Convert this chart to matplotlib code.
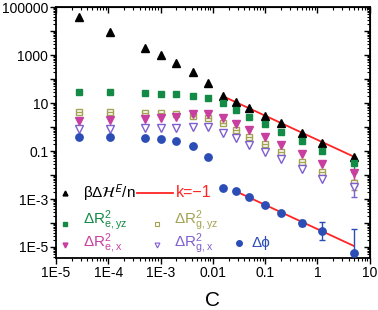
import math
import matplotlib
matplotlib.use("Agg")
import matplotlib.pyplot as plt
from matplotlib.ticker import LogLocator, FuncFormatter, NullFormatter

plt.rcParams['font.family'] = ['Liberation Sans', 'DejaVu Sans']
plt.rcParams['mathtext.fontset'] = 'custom'
plt.rcParams['mathtext.rm'] = 'Liberation Sans'
plt.rcParams['mathtext.it'] = 'Liberation Sans:italic'

# concentration values
C = [2.7e-5, 1.1e-4, 5e-4, 1e-3, 2e-3, 4.2e-3, 8e-3, 0.0155, 0.0275, 0.05, 0.1, 0.2, 0.5, 1.25, 5.0]

# series
dH = [38000, 9000, 1950, 1000, 460, 196, 68, 20, 11, 6.2, 2.9, 1.47, 0.56, 0.21, 0.056]
Re_yz = [29, 29, 27, 25, 23, 20, 16.6, 10, 5.2, 2.6, 1.33, 0.62, 0.26, 0.1, 0.031]
Rg_yz = [4.2, 4.2, 4.0, 3.8, 3.5, 2.9, 2.5, 1.47, 0.75, 0.38, 0.19, 0.09, 0.035, 0.013, 0.0047]
Re_x = [1.8, 1.9, 2.15, 2.4, 2.6, 3.5, 3.5, 2.4, 1.4, 0.75, 0.38, 0.18, 0.075, 0.029, 0.012]
Rg_x = [0.83, 0.83, 0.91, 0.91, 0.93, 1.0, 0.97, 0.56, 0.35, 0.18, 0.09, 0.047, 0.018, 0.0068, 0.0032]
dphi = [0.38, 0.38, 0.35, 0.32, 0.26, 0.16, 0.056, 0.0029, 0.0021, 0.0012, 5.6e-4, 2.6e-4, 1.0e-4, 4.6e-5, 5.6e-6]

# error bars at the last point of the R^2 series: (lower, upper) bounds
Re_yz_err = [0.013, 0.051]
Rg_yz_err = [0.0024, 0.013]
Re_x_err = [0.0062, 0.016]
Rg_x_err = [0.0012, 0.0051]
# error bars of dphi
dphi_err_C = [0.5, 1.25, 5.0]
dphi_err_lo = [7.5e-5, 1.95e-5, 1e-6]
dphi_err_hi = [1.33e-4, 1.1e-4, 5.6e-5]

# k = -1 guide lines
line1_C = [0.0155, 5.0]
line1_y = [19.5, 0.058]
line2_C = [0.0275, 5.0]
line2_y = [2.1e-3, 1.1e-5]

green = '#138a45'
olive = '#a3a352'
pink = '#c83fa0'
purple = '#7f5fcf'
blue = '#2b4db5'
red = '#ff2424'

fig = plt.figure(figsize=(3.78, 3.10), dpi=100)
ax = fig.add_axes([0.148, 0.168, 0.83, 0.809])
ax.set_xscale('log')
ax.set_yscale('log')

ax.plot(line1_C, line1_y, color=red, lw=1.3, zorder=2)
ax.plot(line2_C, line2_y, color=red, lw=1.3, zorder=2)

def err(series, bounds, col):
    v = series[-1]
    ax.errorbar([C[-1]], [v], yerr=[[v - bounds[0]], [bounds[1] - v]],
                fmt='none', ecolor=col, elinewidth=1, capsize=2.5, zorder=2)

err(Re_yz, Re_yz_err, green)
err(Rg_yz, Rg_yz_err, olive)
err(Re_x, Re_x_err, pink)
err(Rg_x, Rg_x_err, purple)
dv = [dphi[C.index(c)] for c in dphi_err_C]
ax.errorbar(dphi_err_C, dv,
            yerr=[[a - b for a, b in zip(dv, dphi_err_lo)], [b - a for a, b in zip(dv, dphi_err_hi)]],
            fmt='none', ecolor=blue, elinewidth=1, capsize=2.5, zorder=2)

ms = 5.3
ax.plot(C, dH, '^', color='black', ms=ms, ls='none', zorder=3)
ax.plot(C, Re_yz, 's', color=green, ms=ms - 0.5, ls='none', zorder=3)
ax.plot(C, Rg_yz, 's', mfc='white', mec=olive, mew=1, ms=ms - 0.5, ls='none', zorder=3)
ax.plot(C, Rg_yz, '_', color=olive, mew=1, ms=ms - 0.5, ls='none', zorder=3)
ax.plot(C, Re_x, 'v', color=pink, ms=ms, ls='none', zorder=3)
ax.plot(C, Rg_x, 'v', mfc='white', mec=purple, mew=1, ms=ms, ls='none', zorder=3)
ax.plot(C, dphi, 'o', color=blue, ms=ms, ls='none', zorder=3)

ax.set_xlim(1e-5, 10)
ax.set_ylim(3.5e-6, 1e5)

xlab = {-5: '1E-5', -4: '1E-4', -3: '1E-3', -2: '0.01', -1: '0.1', 0: '1', 1: '10'}
ylab = {5: '100000', 3: '1000', 1: '10', -1: '0.1', -3: '1E-3', -5: '1E-5'}

def fmt(d):
    def f(v, pos):
        e = int(round(math.log10(v)))
        return d.get(e, '')
    return f

ax.xaxis.set_major_locator(LogLocator(base=10, numticks=20))
ax.xaxis.set_minor_locator(LogLocator(base=10, subs=range(2, 10), numticks=50))
ax.yaxis.set_major_locator(LogLocator(base=10, numticks=20))
ax.yaxis.set_minor_locator(LogLocator(base=10, subs=range(2, 10), numticks=50))
ax.xaxis.set_major_formatter(FuncFormatter(fmt(xlab)))
ax.yaxis.set_major_formatter(FuncFormatter(fmt(ylab)))
ax.xaxis.set_minor_formatter(NullFormatter())
ax.yaxis.set_minor_formatter(NullFormatter())
ax.tick_params(which='major', direction='out', length=4, width=1, labelsize=10, pad=1.5)
ax.tick_params(which='minor', direction='out', length=2, width=0.8)

for sp in ax.spines.values():
    sp.set_linewidth(1.3)

top = ax.secondary_xaxis('top')
top.xaxis.set_major_locator(LogLocator(base=10, numticks=20))
top.xaxis.set_minor_locator(LogLocator(base=10, subs=range(2, 10), numticks=50))
top.xaxis.set_major_formatter(NullFormatter())
top.xaxis.set_minor_formatter(NullFormatter())
top.tick_params(which='major', direction='in', length=4, width=1)
top.tick_params(which='minor', direction='in', length=2, width=0.8)
right = ax.secondary_yaxis('right')
right.yaxis.set_major_locator(LogLocator(base=10, numticks=20))
right.yaxis.set_minor_locator(LogLocator(base=10, subs=range(2, 10), numticks=50))
right.yaxis.set_major_formatter(NullFormatter())
right.yaxis.set_minor_formatter(NullFormatter())
right.tick_params(which='major', direction='in', length=4, width=1)
right.tick_params(which='minor', direction='in', length=2, width=0.8)

ax.set_xlabel('C', fontsize=15, labelpad=8)

# legend drawn by hand
T = ax.transAxes
lfs = 11
lms = 3.5
ax.plot([0.029], [0.259], '^', color='black', ms=lms, transform=T)
ax.text(0.086, 0.262, 'βΔ$\\mathcal{H}^{\\mathsf{E}}$/n', transform=T, fontsize=lfs,
        va='center', color='black', math_fontfamily='stix')
ax.plot([0.258, 0.373], [0.259, 0.259], color=red, lw=1.3, transform=T)
ax.text(0.382, 0.259, 'k=−1', transform=T, fontsize=lfs + 0.5, va='center', color=red)

ax.plot([0.029], [0.135], 's', color=green, ms=lms, transform=T)
ax.text(0.086, 0.15, 'ΔR$^2_{\\rm e,yz}$', transform=T, fontsize=lfs, va='center', color=green)
ax.plot([0.322], [0.135], 's', mfc='white', mec=olive, mew=0.8, ms=lms, transform=T)
ax.text(0.376, 0.15, 'ΔR$^2_{\\rm g,yz}$', transform=T, fontsize=lfs, va='center', color=olive)

ax.plot([0.029], [0.052], 'v', color=pink, ms=lms, transform=T)
ax.text(0.086, 0.055, 'ΔR$^2_{\\rm e,x}$', transform=T, fontsize=lfs, va='center', color=pink)
ax.plot([0.322], [0.052], 'v', mfc='white', mec=purple, mew=0.8, ms=lms, transform=T)
ax.text(0.376, 0.055, 'ΔR$^2_{\\rm g,x}$', transform=T, fontsize=lfs, va='center', color=purple)
ax.plot([0.583], [0.06], 'o', color=blue, ms=lms + 0.5, transform=T)
ax.text(0.624, 0.06, 'Δϕ', transform=T, fontsize=lfs, va='center', color=blue)

fig.savefig('out.png', dpi=100)
